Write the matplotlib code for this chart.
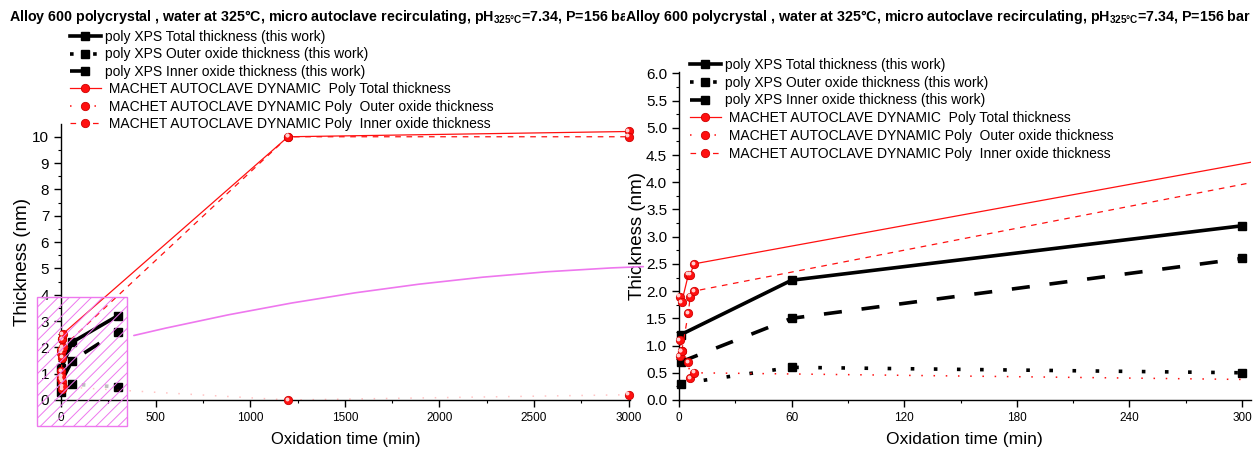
import numpy as np
import matplotlib.pyplot as plt
from matplotlib.patches import Rectangle, ConnectionPatch
from matplotlib.lines import Line2D
from matplotlib.ticker import MultipleLocator, FormatStrFormatter
from matplotlib.transforms import offset_copy

plt.rcParams['font.family'] = ['Liberation Sans', 'DejaVu Sans']
plt.rcParams['mathtext.fontset'] = 'custom'
plt.rcParams['mathtext.rm'] = 'Liberation Sans'
plt.rcParams['mathtext.bf'] = 'Liberation Sans:bold'
plt.rcParams['hatch.linewidth'] = 0.7

# XPS results (this work), thickness in nm vs oxidation time in min
xps_time = [1, 60, 300]
xps_total = [1.2, 2.2, 3.2]
xps_outer = [0.3, 0.6, 0.5]
xps_inner = [0.7, 1.5, 2.6]

# Machet, dynamic autoclave, polycrystal
machet_time = [0.5, 1.5, 5, 6, 8, 1200, 3000]
machet_total = [1.9, 1.8, 2.3, 2.3, 2.5, 10.0, 10.2]
machet_outer = [0.8, 0.9, 0.7, 0.4, 0.5, 0.0, 0.2]
machet_inner = [1.1, 0.9, 1.6, 1.9, 2.0, 10.0, 10.0]

series_labels = [
    'poly XPS Total thickness (this work)',
    'poly XPS Outer oxide thickness (this work)',
    'poly XPS Inner oxide thickness (this work)',
    ' MACHET AUTOCLAVE DYNAMIC  Poly Total thickness',
    ' MACHET AUTOCLAVE DYNAMIC Poly  Outer oxide thickness',
    ' MACHET AUTOCLAVE DYNAMIC Poly  Inner oxide thickness',
]

title = ('Alloy 600 polycrystal , water at 325°C, micro autoclave recirculating, '
         r'pH$_{\mathbf{325°C}}$=7.34, P=156 bar')

# zoomed region shown on the right
zoom_x = (-125, 350)
zoom_y = (-1.0, 3.92)

MAGENTA = '#ee77ee'
RED = '#ff1010'

xps_styles = [(xps_total, '-'), (xps_outer, (0, (1, 5.4))), (xps_inner, (0, (5, 5.5)))]
red_styles = [(machet_total, '-', 0.9), (machet_outer, (0, (1, 7)), 1.1),
              (machet_inner, (0, (4.5, 4.5)), 0.9)]

fig = plt.figure(figsize=(12.58, 4.53), dpi=100)
ax1 = fig.add_axes([0.0485, 0.117, 0.452, 0.609])
ax2 = fig.add_axes([0.5397, 0.117, 0.4545, 0.7247])


def plot_set(ax, xmax, dot_alpha=1.0):
    for y, ls in xps_styles:
        a = dot_alpha if y is xps_outer else 1.0
        ax.plot(xps_time, y, color='black', lw=2.6, ls=ls, dash_capstyle='butt', alpha=a)
        t = np.array(xps_time)
        keep = t <= xmax
        ax.plot(t[keep], np.array(y)[keep], ls='none', marker='s', ms=5.5,
                color='black', clip_on=False, zorder=3)
    hl_tr = offset_copy(ax.transData, fig=fig, x=-1.0, y=1.0, units='points')
    for y, ls, lw in red_styles:
        a = dot_alpha if y is machet_outer else 1.0
        ax.plot(machet_time, y, color=RED, lw=lw, ls=ls, zorder=4, alpha=a)
        t = np.array(machet_time)
        keep = t <= xmax
        ax.plot(t[keep], np.array(y)[keep], ls='none', marker='o', ms=6,
                mfc=RED, mec='#d00000', mew=0.6, clip_on=False, zorder=5)
        ax.plot(t[keep], np.array(y)[keep], ls='none', marker='o', ms=1.8,
                color='#ffd0d0', transform=hl_tr, clip_on=False, zorder=6)


def style_axes(ax, xfs, ypad):
    for side in ('top', 'right'):
        ax.spines[side].set_visible(False)
    for side in ('left', 'bottom'):
        ax.spines[side].set_linewidth(1.0)
    ax.tick_params(which='major', direction='out', length=5, width=1)
    ax.tick_params(which='minor', direction='out', length=2.5, width=0.8)
    ax.tick_params(axis='y', labelsize=11)
    ax.tick_params(axis='x', labelsize=8.5)
    ax.set_xlabel('Oxidation time (min)', fontsize=xfs, labelpad=6)
    ax.set_ylabel('Thickness (nm)', fontsize=13.5, labelpad=ypad)


# full time range (dotted series barely show at this scale)
plot_set(ax1, 3000, dot_alpha=0.25)
ax1.set_xlim(0, 3005)
ax1.set_ylim(0, 10.48)
ax1.xaxis.set_major_locator(MultipleLocator(500))
ax1.xaxis.set_minor_locator(MultipleLocator(250))
ax1.yaxis.set_major_locator(MultipleLocator(1))
ax1.yaxis.set_minor_locator(MultipleLocator(0.5))
style_axes(ax1, 12, 1)

box = Rectangle((zoom_x[0], zoom_y[0]), zoom_x[1] - zoom_x[0], zoom_y[1] - zoom_y[0],
                facecolor='none', edgecolor=MAGENTA, hatch='///', lw=1.0,
                clip_on=False, zorder=8)
ax1.add_patch(box)

# first 300 min
plot_set(ax2, 304.6)
ax2.set_xlim(0, 304.6)
ax2.set_ylim(0, 6.03)
ax2.xaxis.set_major_locator(MultipleLocator(60))
ax2.xaxis.set_minor_locator(MultipleLocator(30))
ax2.yaxis.set_major_locator(MultipleLocator(0.5))
ax2.yaxis.set_minor_locator(MultipleLocator(0.25))
ax2.yaxis.set_major_formatter(FormatStrFormatter('%.1f'))
style_axes(ax2, 12.6, 0)

link = ConnectionPatch(xyA=(385, 2.45), coordsA=ax1.transData,
                       xyB=(-19, 2.45), coordsB=ax2.transData,
                       color=MAGENTA, lw=1.2, connectionstyle='arc3,rad=-0.05')
fig.add_artist(link)

# legend entries: line with one marker in the middle
leg_handles = []
for y, ls in xps_styles:
    leg_handles.append(Line2D([], [], color='black', lw=2.6, ls=ls, marker='s', ms=5.5,
                              dash_capstyle='butt'))
for y, ls, lw in red_styles:
    leg_handles.append(Line2D([], [], color=RED, lw=lw, ls=ls, marker='o', ms=6,
                              mfc=RED, mec='#d00000', mew=0.6))

for pos, spacing in [((0.0556, 0.934), 0.25), ((0.5485, 0.872), 0.27)]:
    fig.legend(leg_handles, series_labels, loc='upper left', bbox_to_anchor=pos,
               bbox_transform=fig.transFigure, frameon=False, fontsize=10,
               handlelength=2.2, handletextpad=0.35, labelspacing=spacing,
               borderpad=0, borderaxespad=0, numpoints=1)

fig.text(0.007, 0.962, title, fontsize=10.25, fontweight='bold', va='center')
fig.text(0.497, 0.962, title, fontsize=10.25, fontweight='bold', va='center',
         bbox=dict(facecolor='white', edgecolor='none', pad=0))

fig.savefig('out.png', dpi=100, facecolor='white')
